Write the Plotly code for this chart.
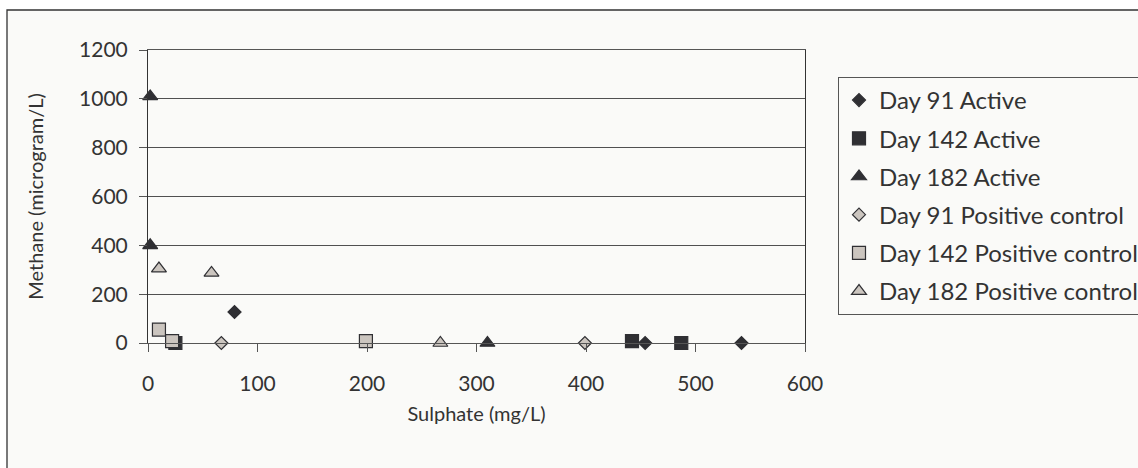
import plotly.graph_objects as go

# ---- data ----
series_names = ["Day 91 Active", "Day 142 Active", "Day 182 Active",
                "Day 91 Positive control", "Day 142 Positive control", "Day 182 Positive control"]

d91_active_x = [79, 454, 542]
d91_active_y = [127, 0, 0]
d142_active_x = [25, 442, 487]
d142_active_y = [0, 8, 0]
d182_active_x = [2, 2, 310]
d182_active_y = [1010, 400, 0]
d91_pc_x = [67, 399]
d91_pc_y = [0, 0]
d142_pc_x = [10, 22, 199]
d142_pc_y = [55, 8, 8]
d182_pc_x = [10, 58, 267]
d182_pc_y = [305, 287, 0]

x_ticks = [0, 100, 200, 300, 400, 500, 600]
y_ticks = [0, 200, 400, 600, 800, 1000, 1200]

# ---- style ----
DARK = "#2f2f33"
GRAY = "#cbc5bf"
BG = "#fafaf8"
TXT = "#333333"
FONT = "Lato"
FS = 21

xs = [d91_active_x, d142_active_x, d182_active_x, d91_pc_x, d142_pc_x, d182_pc_x]
ys = [d91_active_y, d142_active_y, d182_active_y, d91_pc_y, d142_pc_y, d182_pc_y]
symbols = ["diamond", "square", "triangle-up", "diamond", "square", "triangle-up"]
sizes = [10, 13, 13, 10, 13, 13]
fills = [DARK, DARK, DARK, GRAY, GRAY, GRAY]

fig = go.Figure()
for i in range(6):
    fig.add_trace(go.Scatter(
        x=xs[i], y=ys[i], mode="markers", name=series_names[i],
        legendgroup=str(i), cliponaxis=False,
        marker=dict(symbol=symbols[i], size=sizes[i], color=fills[i],
                    line=dict(color=DARK, width=1.2)),
    ))

L, R, T, B = 148, 333, 50, 125
W, H = 1138, 468
pw = W - L - R
ph = H - T - B

def px_x(p):
    return (p - L) / pw

def px_y(p):
    return (H - B - p) / ph

fig.add_shape(type="rect", xref="paper", yref="paper",
              x0=px_x(7), x1=px_x(1150), y0=px_y(480), y1=px_y(10),
              line=dict(color="#333", width=1.3), fillcolor=BG, layer="below")

fig.update_layout(
    width=W, height=H,
    margin=dict(l=L, r=R, t=T, b=B, autoexpand=False),
    paper_bgcolor="white", plot_bgcolor=BG,
    font=dict(family=FONT, size=FS, color=TXT),
    showlegend=True,
    legend=dict(x=px_x(838), xanchor="left", y=px_y(77), yanchor="top",
                bgcolor=BG, bordercolor="#555", borderwidth=1,
                traceorder="grouped", tracegroupgap=4,
                font=dict(family=FONT, size=24, color=TXT)),
    xaxis=dict(range=[0, 600], tickvals=x_ticks, showgrid=False, zeroline=False,
               showline=True, linecolor="#555", linewidth=1, mirror=True,
               ticks="outside", ticklen=8, tickcolor="#555",
               ticklabelstandoff=14,
               title=dict(text="Sulphate (mg/L)", standoff=12,
                          font=dict(family=FONT, size=20, color=TXT))),
    yaxis=dict(range=[0, 1200], tickvals=y_ticks, showgrid=True, gridcolor="#505050",
               gridwidth=1, zeroline=False,
               showline=True, linecolor="#333", linewidth=1, mirror=True,
               ticks="outside", ticklen=8, tickcolor="#555",
               ticklabelstandoff=7,
               title=dict(text="Methane (microgram/L)", standoff=30,
                          font=dict(family=FONT, size=20, color=TXT))),
)

fig.write_html("out.html", config={"displayModeBar": False},
               post_script="document.body.style.margin='0';")
